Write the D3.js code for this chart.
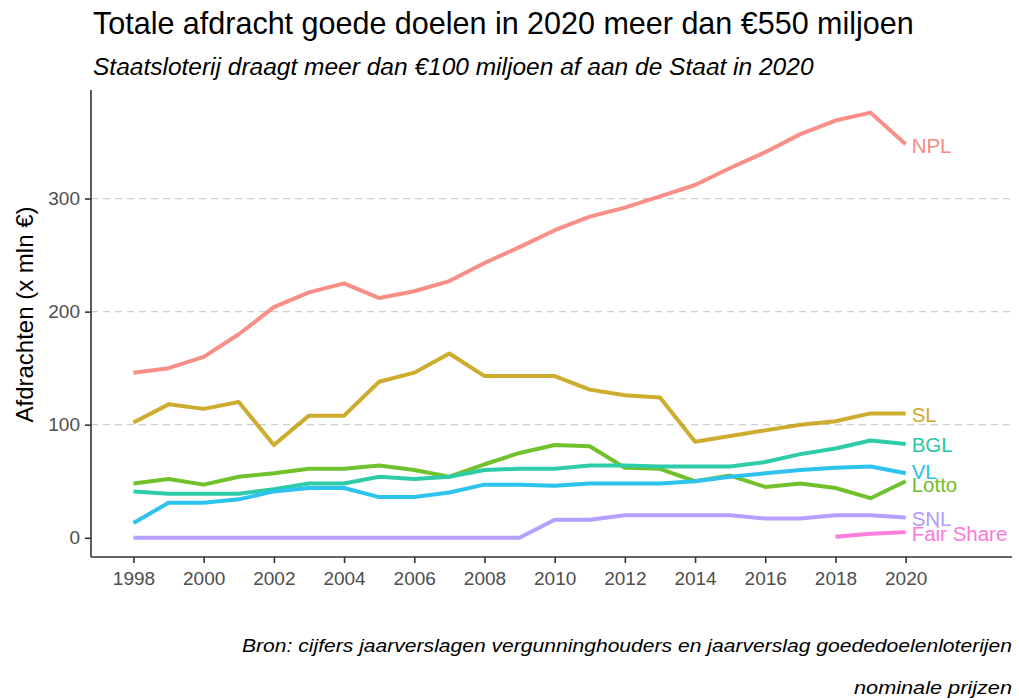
<!DOCTYPE html>
<html>
<head>
<meta charset="utf-8">
<script src="https://cdn.jsdelivr.net/npm/d3@7"></script>
<style>
  html, body { margin: 0; padding: 0; background: #ffffff; }
  svg { display: block; font-family: "Liberation Sans", Arial, sans-serif; }
</style>
</head>
<body>
<svg id="chart" width="1019" height="700"></svg>
<script>
// ---- data ----
const years = [1998, 1999, 2000, 2001, 2002, 2003, 2004, 2005, 2006, 2007, 2008, 2009,
               2010, 2011, 2012, 2013, 2014, 2015, 2016, 2017, 2018, 2019, 2020];
const seriesNames = ["NPL", "SL", "Lotto", "BGL", "VL", "SNL", "Fair Share"];
const NPL   = [146, 150, 160, 180, 204, 217, 225, 212, 218, 227, 243, 257, 272, 284, 292, 302, 312, 327, 341, 357, 369, 376, 348];
const SL    = [102, 118, 114, 120, 82, 108, 108, 138, 146, 163, 143, 143, 143, 131, 126, 124, 85, 90, 95, 100, 103, 110, 110];
const Lotto = [48, 52, 47, 54, 57, 61, 61, 64, 60, 54, 65, 75, 82, 81, 62, 61, 50, 55, 45, 48, 44, 35, 50];
const BGL   = [41, 39, 39, 39, 43, 48, 48, 54, 52, 54, 60, 61, 61, 64, 64, 63, 63, 63, 67, 74, 79, 86, 83];
const VL    = [13, 31, 31, 34, 41, 44, 44, 36, 36, 40, 47, 47, 46, 48, 48, 48, 50, 54, 57, 60, 62, 63, 57];
const SNL   = [0, 0, 0, 0, 0, 0, 0, 0, 0, 0, 0, 0, 16, 16, 20, 20, 20, 20, 17, 17, 20, 20, 18];
const FairShare = [null, null, null, null, null, null, null, null, null, null, null, null,
                   null, null, null, null, null, null, null, null, 1, 3.5, 5];
const colors = ["#F8766D", "#C49A00", "#53B400", "#00C094", "#00B6EB", "#A58AFF", "#FB61D7"];
const xTicks = [1998, 2000, 2002, 2004, 2006, 2008, 2010, 2012, 2014, 2016, 2018, 2020];
const yTicks = [0, 100, 200, 300];
const gridValues = [100, 200, 300];
const title = "Totale afdracht goede doelen in 2020 meer dan €550 miljoen";
const subtitle = "Staatsloterij draagt meer dan €100 miljoen af aan de Staat in 2020";
const yTitle = "Afdrachten (x mln €)";
const caption1 = "Bron: cijfers jaarverslagen vergunninghouders en jaarverslag goededoelenloterijen";
const caption2 = "nominale prijzen";

const seriesValues = [NPL, SL, Lotto, BGL, VL, SNL, FairShare];
const series = seriesNames.map((n, i) => ({
  name: n, color: colors[i],
  values: years.map((y, j) => ({ year: y, v: seriesValues[i][j] })).filter(d => d.v !== null)
}));

// ---- layout ----
const svg = d3.select("#chart");
const L = 91, R = 1012, T = 90, B = 557;
const x = d3.scaleLinear().domain([1996.79, 2023.03]).range([L, R]);
const y = d3.scaleLinear().domain([-17, 396]).range([B, T]);

// titles
svg.append("text").attr("x", 93).attr("y", 34).attr("font-size", 30.5).attr("fill", "#000")
  .text(title);
svg.append("text").attr("x", 93).attr("y", 75).attr("font-size", 24.5).attr("font-style", "italic")
  .attr("fill", "#000").text(subtitle);

// gridlines
svg.append("g").selectAll("line").data(gridValues).join("line")
  .attr("x1", L).attr("x2", R).attr("y1", d => y(d)).attr("y2", d => y(d))
  .attr("stroke", "#cfcfcf").attr("stroke-width", 1.3).attr("stroke-dasharray", "7,5");

// axes
const yAxis = svg.append("g").attr("transform", `translate(${L},0)`)
  .call(d3.axisLeft(y).tickValues(yTicks).tickSize(6).tickPadding(5).tickSizeOuter(0));
const xAxis = svg.append("g").attr("transform", `translate(0,${B})`)
  .call(d3.axisBottom(x).tickValues(xTicks).tickFormat(d3.format("d")).tickSize(6).tickPadding(9).tickSizeOuter(0));
[yAxis, xAxis].forEach(g => {
  g.select(".domain").attr("stroke", "#333").attr("stroke-width", 1.6);
  g.selectAll(".tick line").attr("stroke", "#333").attr("stroke-width", 1.6);
  g.selectAll(".tick text").attr("fill", "#4d4d4d").attr("font-size", 19)
    .attr("font-family", "Liberation Sans, Arial, sans-serif");
});
yAxis.select(".domain").attr("d", `M0,${B}V${T}`);
xAxis.select(".domain").attr("d", `M${L},0H${R}`);

// y title
svg.append("text").attr("transform", `translate(33,${(T + B) / 2 - 9}) rotate(-90)`)
  .attr("text-anchor", "middle").attr("font-size", 24).attr("fill", "#000").text(yTitle);

// lines
const line = d3.line().x(d => x(d.year)).y(d => y(d.v));
svg.append("g").attr("opacity", 0.82).selectAll("path").data(series).join("path")
  .attr("d", d => line(d.values)).attr("fill", "none")
  .attr("stroke", d => d.color).attr("stroke-width", 4).attr("stroke-linejoin", "round");

// end labels with simple repel
const labels = series.map(s => ({ name: s.name, color: s.color, ty: y(s.values[s.values.length - 1].v) }));
labels.forEach(l => l.ly = l.ty);
for (let it = 0; it < 200; it++) {
  labels.sort((a, b) => a.ly - b.ly);
  for (let i = 1; i < labels.length; i++) {
    const gap = labels[i].ly - labels[i - 1].ly;
    if (gap < 13) {
      const push = (13 - gap) / 2;
      labels[i].ly += push; labels[i - 1].ly -= push;
    }
  }
}
svg.append("g").attr("opacity", 0.85).selectAll("text").data(labels).join("text")
  .attr("x", x(2020) + 6).attr("y", d => d.ly + 3).attr("dominant-baseline", "middle")
  .attr("font-size", 20.5).attr("fill", d => d.color).text(d => d.name);

// caption
svg.append("text").attr("x", 1012).attr("y", 652).attr("text-anchor", "end")
  .attr("font-size", 18).attr("font-style", "italic").attr("fill", "#000")
  .attr("textLength", 770).attr("lengthAdjust", "spacingAndGlyphs").text(caption1);
svg.append("text").attr("x", 1012).attr("y", 694).attr("text-anchor", "end")
  .attr("font-size", 18).attr("font-style", "italic").attr("fill", "#000")
  .attr("textLength", 158).attr("lengthAdjust", "spacingAndGlyphs").text(caption2);
</script>
</body>
</html>
